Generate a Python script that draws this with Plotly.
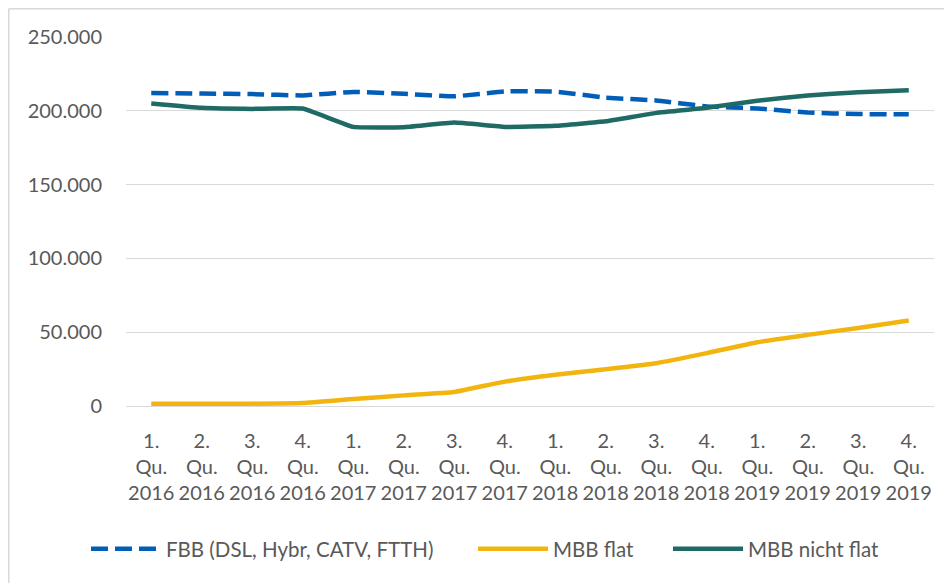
import plotly.graph_objects as go

quarters = ["1.", "2.", "3.", "4."] * 4
years = ["2016"] * 4 + ["2017"] * 4 + ["2018"] * 4 + ["2019"] * 4
categories = [f"{q}<br>Qu.<br>{y}" for q, y in zip(quarters, years)]

fbb = [212000, 211700, 211300, 210400, 212800, 211500, 209800, 213100,
       213000, 208900, 207000, 203000, 201600, 198800, 197800, 197600]
mbb_flat = [1600, 1600, 1600, 2000, 4700, 7200, 9500, 16500,
            21200, 24900, 29000, 35800, 43200, 48200, 52900, 57900]
mbb_nicht_flat = [205000, 202000, 201300, 201500, 189100, 188900, 192000, 189100,
                  189800, 192900, 198600, 202000, 206800, 210400, 212600, 214000]

names = ["FBB (DSL, Hybr, CATV, FTTH)", "MBB flat", "MBB nicht flat"]
colors = ["#005EB8", "#F2B50F", "#1F6A64"]

fig = go.Figure()
fig.add_trace(go.Scatter(x=categories, y=fbb, name=names[0], mode="lines", legend="legend",
                         line=dict(color=colors[0], width=4.5, dash="17px,7px",
                                   shape="spline", smoothing=0.3)))
fig.add_trace(go.Scatter(x=categories, y=mbb_flat, name=names[1], mode="lines", legend="legend2",
                         line=dict(color=colors[1], width=4.5, shape="spline", smoothing=0.3)))
fig.add_trace(go.Scatter(x=categories, y=mbb_nicht_flat, name=names[2], mode="lines", legend="legend3",
                         line=dict(color=colors[2], width=4.5, shape="spline", smoothing=0.3)))

font_family = "Lato, 'Open Sans', sans-serif"
leg_common = dict(orientation="h", xanchor="left", y=-0.3875, yanchor="middle",
                  font=dict(size=20.5, color="#595959"), itemwidth=70,
                  bgcolor="rgba(0,0,0,0)")
fig.update_layout(
    width=952, height=583,
    margin=dict(l=118, r=26, t=29, b=185, autoexpand=False),
    paper_bgcolor="white", plot_bgcolor="white",
    separators=",.",
    font=dict(family=font_family, size=20, color="#595959"),
    showlegend=True,
    legend=dict(x=-0.0495, **leg_common),
    legend2=dict(x=0.4295, **leg_common),
    legend3=dict(x=0.6708, **leg_common),
    xaxis=dict(range=[-0.5, 15.5], automargin=False,
               showgrid=False, showline=False, zeroline=False, ticks="",
               tickangle=0, ticklabelstandoff=21,
               tickfont=dict(size=20, color="#595959")),
    yaxis=dict(range=[0, 250000], tick0=0, dtick=50000, tickformat=",d", automargin=False,
               showgrid=True, gridcolor="#D9D9D9", gridwidth=1.3,
               zeroline=True, zerolinecolor="#D9D9D9", zerolinewidth=1.3,
               showline=False, ticks="", ticklabelstandoff=23,
               tickfont=dict(size=20, color="#595959")),
    shapes=[
        dict(type="line", xref="paper", yref="paper", x0=-0.1451, x1=1.2, y0=1.0766, y1=1.0766,
             line=dict(color="#D9D9D9", width=1.5)),
        dict(type="line", xref="paper", yref="paper", x0=-0.1451, x1=-0.1451, y0=1.0766, y1=-0.7,
             line=dict(color="#D9D9D9", width=1.5)),
    ],
)

fig.write_html("out.html")
